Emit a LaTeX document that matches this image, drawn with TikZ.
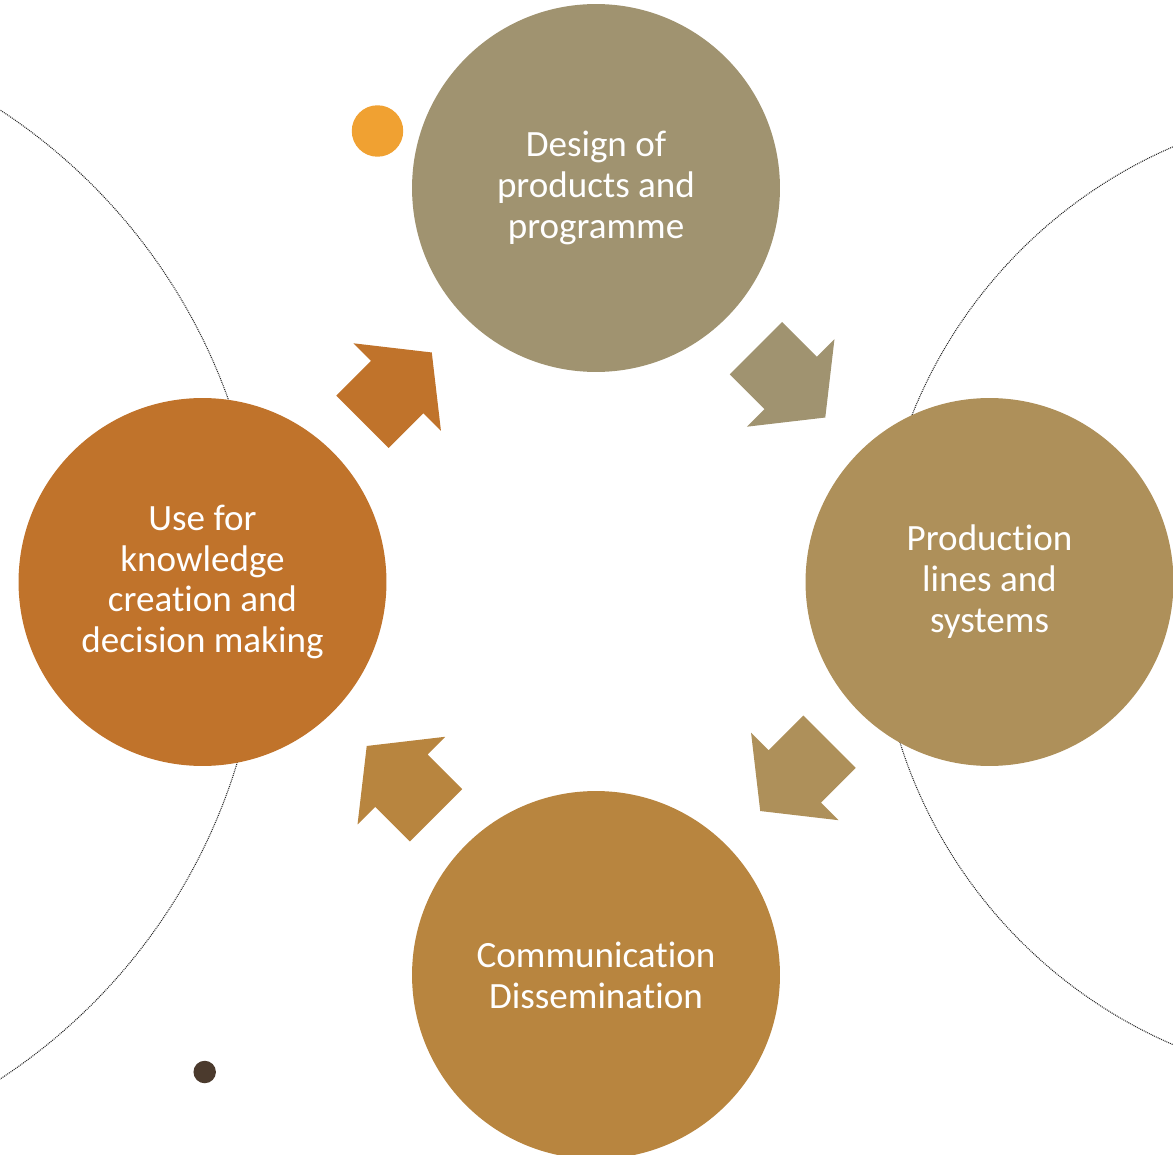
\documentclass[tikz,border=0pt]{standalone}
\usepackage{fontspec}
\setmainfont{Carlito}[Ligatures=CommonOff]
\usetikzlibrary{calc}
\definecolor{cTop}{HTML}{A09370}
\definecolor{cRight}{HTML}{AE905A}
\definecolor{cBottom}{HTML}{B8853F}
\definecolor{cLeft}{HTML}{C0732B}
\definecolor{cDotA}{HTML}{F0A132}
\definecolor{cDotB}{HTML}{4B3A2D}
\tikzset{
  stagecircle/.style={circle, minimum size=7.36cm, inner sep=0pt, text=white, align=center,
    font=\fontsize{21.1}{23.3}\selectfont},
  dotline/.style={line width=0.6pt, draw=black!85, dash pattern=on 0.55pt off 0.55pt},
}
\newcommand{\blockarrowshape}{(-52,37) -- (-3,37) -- (-3,62) -- (46,0) -- (-3,-62) -- (-3,-37) -- (-52,-37) -- cycle}
\begin{document}
\begin{tikzpicture}[x=0.02cm,y=-0.02cm]
\useasboundingbox (0,0) rectangle (1173,1155);
\begin{scope}
  \clip (0,0) rectangle (1173,1155);
  \draw[dotline] (-317,594.5) circle[radius=579];
  \draw[dotline] (1366,595.7) circle[radius=488.5];
\end{scope}
\node[stagecircle, fill=cTop] (top) at (596,188) {Design of\\products and\\programme};
\node[stagecircle, fill=cRight] (right) at (989.5,582) {Production\\lines and\\systems};
\node[stagecircle, fill=cBottom] (bottom) at (596,975) {Communication\\Dissemination};
\node[stagecircle, fill=cLeft] (left) at (202.5,582) {Use for\\knowledge\\creation and\\decision making};
\fill[cTop] [shift={($(top)!0.5!(right)$)}, rotate=-45] \blockarrowshape;
\fill[cRight] [shift={($(right)!0.5!(bottom)$)}, rotate=-135] \blockarrowshape;
\fill[cBottom] [shift={($(bottom)!0.5!(left)$)}, rotate=135] \blockarrowshape;
\fill[cLeft] [shift={($(left)!0.5!(top)$)}, rotate=45] \blockarrowshape;
\node[circle, fill=cDotA, minimum size=1.03cm, inner sep=0pt] (dotA) at (377.5,131) {};
\node[circle, fill=cDotB, minimum size=0.45cm, inner sep=0pt] (dotB) at (204.7,1072) {};
\end{tikzpicture}
\end{document}
